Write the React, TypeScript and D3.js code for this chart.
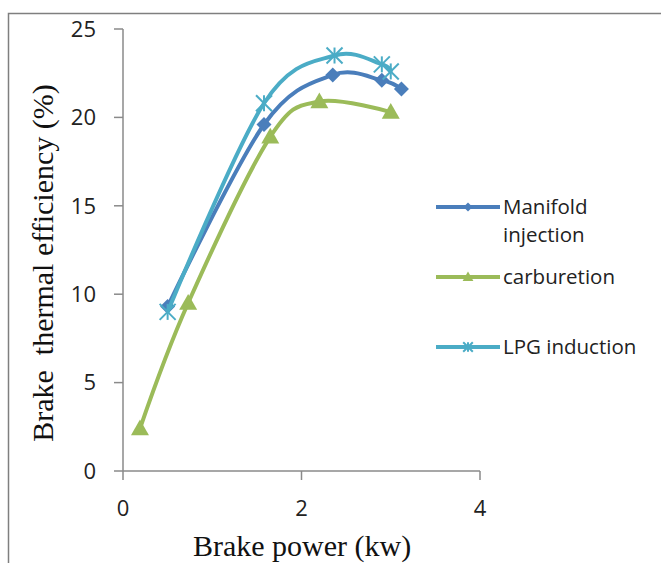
import React from "react";
import * as d3 from "d3";

const xTicks = [0, 2, 4];
const yTicks = [0, 5, 10, 15, 20, 25];

const manifoldX = [0.5, 1.58, 2.35, 2.9, 3.12];
const manifoldY = [9.3, 19.6, 22.4, 22.1, 21.6];

const carbX = [0.19, 0.73, 1.65, 2.2, 3.0];
const carbY = [2.4, 9.5, 18.9, 20.9, 20.3];

const lpgX = [0.5, 1.58, 2.37, 2.9, 3.0];
const lpgY = [9.0, 20.8, 23.5, 23.0, 22.6];

const seriesNames = ["Manifold injection", "carburetion", "LPG induction"];
const seriesColors = ["#4A7EBB", "#9BBB59", "#4BACC6"];

export default function App() {
  const W = 661, H = 563;
  const x = d3.scaleLinear().domain([0, 4]).range([123, 480]);
  const y = d3.scaleLinear().domain([0, 25]).range([471, 29]);
  const line = d3
    .line<[number, number]>()
    .x((d) => x(d[0]))
    .y((d) => y(d[1]))
    .curve(d3.curveCardinal.tension(0));

  const series = [
    { xs: manifoldX, ys: manifoldY },
    { xs: carbX, ys: carbY },
    { xs: lpgX, ys: lpgY },
  ].map((s, i) => ({
    pts: s.xs.map((v, j) => [v, s.ys[j]] as [number, number]),
    color: seriesColors[i],
    name: seriesNames[i],
    kind: i,
  }));

  const marker = (kind: number, cx: number, cy: number, color: string, k: string, scale = 1) => {
    if (kind === 0) {
      const r = 7.5 * scale;
      return (
        <path key={k} d={`M${cx},${cy - r}L${cx + r},${cy}L${cx},${cy + r}L${cx - r},${cy}Z`} fill={color} />
      );
    }
    if (kind === 1) {
      const s = 9 * scale;
      return (
        <path key={k} d={`M${cx},${cy - s}L${cx + s},${cy + s * 0.75}L${cx - s},${cy + s * 0.75}Z`} fill={color} />
      );
    }
    const r = 8 * scale;
    return (
      <g key={k} stroke={color} strokeWidth={2}>
        <line x1={cx - r} y1={cy - r} x2={cx + r} y2={cy + r} />
        <line x1={cx - r} y1={cy + r} x2={cx + r} y2={cy - r} />
        <line x1={cx} y1={cy - r} x2={cx} y2={cy + r} />
      </g>
    );
  };

  const axisColor = "#8a8a8a";
  const tickFont = "'Open Sans', 'Noto Sans', sans-serif";
  const serif = "'Liberation Serif', 'DejaVu Serif', serif";

  const legendY = [207, 277, 347];

  return (
    <svg width={W} height={H} style={{ position: "absolute", left: 0, top: 0, background: "#fff" }}>
      <rect x={0} y={0} width={W} height={H} fill="#fff" />
      {/* outer border */}
      <path d={`M8.5,${H}L8.5,13.5L${W},13.5`} fill="none" stroke="#7f7f7f" strokeWidth={1.5} />

      {/* axes */}
      <line x1={x(0)} y1={y(25)} x2={x(0)} y2={y(0)} stroke={axisColor} strokeWidth={1.5} />
      <line x1={x(0)} y1={y(0)} x2={x(4)} y2={y(0)} stroke={axisColor} strokeWidth={1.5} />
      {yTicks.map((t) => (
        <g key={"yt" + t}>
          <line x1={x(0) - 9} x2={x(0)} y1={y(t)} y2={y(t)} stroke={axisColor} strokeWidth={1.5} />
          <text x={96} y={y(t)} dy="0.35em" textAnchor="end" fontFamily={tickFont} fontSize={22} fill="#222">
            {t}
          </text>
        </g>
      ))}
      {xTicks.map((t) => (
        <g key={"xt" + t}>
          <line x1={x(t)} x2={x(t)} y1={y(0)} y2={y(0) + 9} stroke={axisColor} strokeWidth={1.5} />
          <text x={x(t)} y={508} dy="0.35em" textAnchor="middle" fontFamily={tickFont} fontSize={22} fill="#222">
            {t}
          </text>
        </g>
      ))}

      <text x={302} y={556} textAnchor="middle" fontFamily={serif} fontSize={30} fill="#111">
        Brake power (kw)
      </text>
      <text
        transform={`translate(42,263) rotate(-90)`}
        textAnchor="middle"
        dy="0.35em"
        fontFamily={serif}
        fontSize={30}
        fill="#111"
        style={{ whiteSpace: "pre" }}
      >
        {"Brake  thermal efficiency (%)"}
      </text>

      {/* series */}
      {series.map((s) => (
        <g key={s.name}>
          <path d={line(s.pts) || ""} fill="none" stroke={s.color} strokeWidth={4} strokeLinejoin="round" />
          {s.pts.map((p, j) => marker(s.kind, x(p[0]), y(p[1]), s.color, s.name + j))}
        </g>
      ))}

      {/* legend */}
      {series.map((s, i) => (
        <g key={"lg" + i}>
          <line x1={436} x2={500} y1={legendY[i]} y2={legendY[i]} stroke={s.color} strokeWidth={4} />
          {marker(s.kind, 468, legendY[i], s.color, "lm" + i, 0.6)}
          {i === 0 ? (
            <text fontFamily={tickFont} fontSize={20.5} fill="#222">
              <tspan x={503} y={legendY[i]} dy="0.35em">Manifold</tspan>
              <tspan x={503} y={legendY[i] + 28} dy="0.35em">injection</tspan>
            </text>
          ) : (
            <text x={503} y={legendY[i]} dy="0.35em" fontFamily={tickFont} fontSize={20.5} fill="#222">
              {s.name}
            </text>
          )}
        </g>
      ))}
    </svg>
  );
}
